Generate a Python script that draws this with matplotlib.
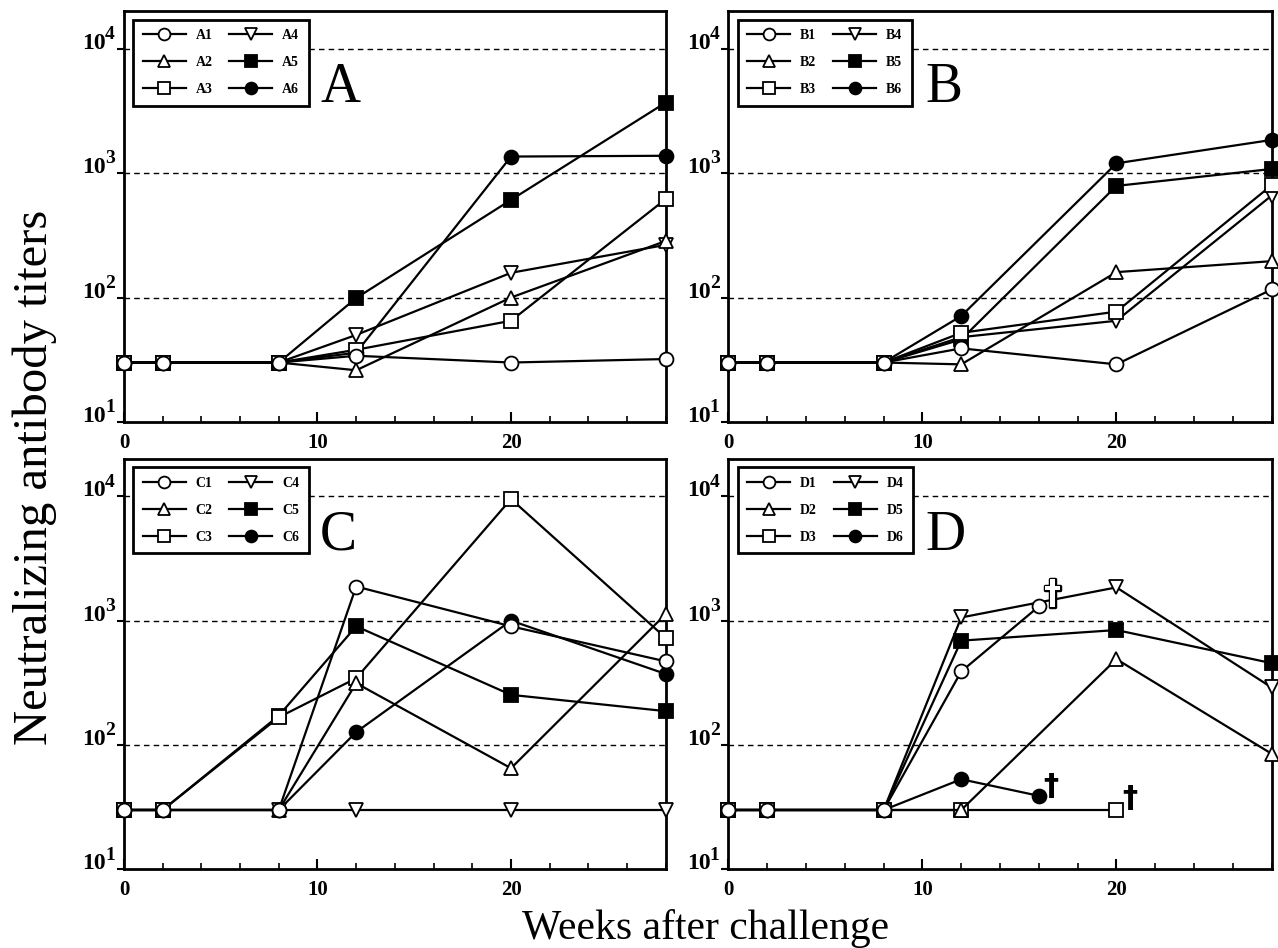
import numpy as np
import matplotlib
matplotlib.use('Agg')
import matplotlib.pyplot as plt
import matplotlib.patheffects as pe
from matplotlib.ticker import NullLocator, FixedLocator, NullFormatter

plt.rcParams['font.family'] = 'Liberation Serif'

# weeks after challenge
weeks = [0, 2, 8, 12, 20, 28]
weeks_d = [0, 2, 8, 12, 16, 20, 28]
nan = np.nan

# neutralizing antibody titers, one list per animal
titers_A = [
    [30, 30, 30, 34, 30, 32],        # A1
    [30, 30, 30, 26, 100, 285],      # A2
    [30, 30, 30, 38, 65, 620],       # A3
    [30, 30, 30, 50, 158, 265],      # A4
    [30, 30, 30, 99, 610, 3700],     # A5
    [30, 30, 30, 36, 1360, 1380],    # A6
]
titers_B = [
    [30, 30, 30, 39, 29, 116],
    [30, 30, 30, 29, 160, 196],
    [30, 30, 30, 52, 77, 800],
    [30, 30, 30, 48, 65, 660],
    [30, 30, 30, 46, 790, 1080],
    [30, 30, 30, 71, 1200, 1850],
]
titers_C = [
    [30, 30, 30, 1880, 900, 470],
    [30, 30, 30, 314, 65, 1130],
    [30, 30, 167, 344, 9500, 724],
    [30, 30, 30, 30, 30, 30],
    [30, 30, 172, 900, 253, 187],
    [30, 30, 30, 127, 1000, 372],
]
titers_D = [
    [30, 30, 30, 390, 1300, nan, nan],
    [30, 30, 30, 30, nan, 490, 85],
    [30, 30, 30, 30, nan, 30, nan],
    [30, 30, 30, 1060, nan, 1850, 290],
    [30, 30, 30, 690, nan, 840, 455],
    [30, 30, 30, 53, 39, nan, nan],
]
decades = [10, 100, 1000, 10000]
exponents = ['1', '2', '3', '4']

panels = ['A', 'B', 'C', 'D']
panel_weeks = [weeks, weeks, weeks, weeks_d]
panel_data = [titers_A, titers_B, titers_C, titers_D]
markers = ['o', '^', 's', 'v', 's', 'o']
faces = ['white', 'white', 'white', 'white', 'black', 'black']

positions = [[0.097, 0.555, 0.424, 0.433],
             [0.570, 0.555, 0.425, 0.433],
             [0.097, 0.083, 0.424, 0.433],
             [0.570, 0.083, 0.425, 0.433]]

fig = plt.figure(figsize=(12.78, 9.48), dpi=100)

for p in range(4):
    ax = fig.add_axes(positions[p])
    x_all = np.array(panel_weeks[p], dtype=float)
    for i in range(6):
        y = np.array(panel_data[p][i], dtype=float)
        ok = ~np.isnan(y)
        ax.plot(x_all[ok], y[ok], color='black', lw=1.6, marker=markers[i],
                ms=10, mfc=faces[i], mec='black', mew=1.3, clip_on=False,
                zorder=10 - i, label=panels[p] + str(i + 1))

    ax.set_yscale('log')
    ax.set_ylim(10, 2e4)
    ax.set_xlim(0, 28)
    for v in decades[1:]:
        ax.axhline(v, color='black', lw=1, ls=(0, (4, 3)), zorder=1)

    ax.yaxis.set_major_locator(FixedLocator(decades))
    ax.yaxis.set_minor_locator(NullLocator())
    ax.yaxis.set_major_formatter(NullFormatter())
    for v, e in zip(decades, exponents):
        ax.annotate('10', xy=(0, v), xycoords=('axes fraction', 'data'),
                    xytext=(-13, 0), textcoords='offset points',
                    ha='right', va='baseline', fontsize=17, fontweight='bold')
        ax.annotate(e, xy=(0, v), xycoords=('axes fraction', 'data'),
                    xytext=(-13.5, 7), textcoords='offset points',
                    ha='left', va='baseline', fontsize=14, fontweight='bold')

    ax.set_xticks([0, 10, 20])
    ax.set_xticks(np.arange(0, 29, 2), minor=True)
    ax.set_xticklabels(['0', '10', '20'], fontsize=15, fontweight='bold')
    ax.tick_params(axis='x', which='major', direction='in', length=7, width=1.5, pad=8)
    ax.tick_params(axis='x', which='minor', direction='in', length=4, width=1.2)
    ax.tick_params(axis='y', which='major', direction='out', length=5, width=1.5)
    for s in ax.spines.values():
        s.set_linewidth(2)

    leg = ax.legend(loc='upper left', bbox_to_anchor=(0.004, 0.997), ncol=2,
                    fancybox=False, framealpha=1, edgecolor='black',
                    prop={'family': 'Liberation Serif', 'weight': 'bold', 'size': 10},
                    handlelength=3.1, handletextpad=0.7, columnspacing=1.2,
                    labelspacing=1.0, borderpad=0.7, markerscale=0.85)
    leg.get_frame().set_linewidth(2)
    leg.set_zorder(20)

    ax.text(0.362, 0.779, panels[p], transform=ax.transAxes, fontsize=40,
            ha='left', va='baseline')

    if p == 3:
        ax.text(16.6, 46, '\u2020', fontsize=22, fontweight='bold',
                family='DejaVu Sans', ha='center', va='center', zorder=15)
        ax.text(20.7, 37, '\u2020', fontsize=22, fontweight='bold',
                family='DejaVu Sans', ha='center', va='center', zorder=15)
        ax.text(16.7, 1630, '\u2020', fontsize=24, fontweight='bold',
                family='DejaVu Sans', ha='center', va='center', color='white',
                zorder=15, path_effects=[pe.withStroke(linewidth=2.5, foreground='black'),
                                         pe.Normal()])

fig.text(0.027, 0.496, 'Neutralizing antibody titers', rotation=90,
         fontsize=35, ha='center', va='center')
fig.text(0.552, 0.009, 'Weeks after challenge', fontsize=30,
         ha='center', va='baseline')

plt.savefig('out.png', dpi=100)
